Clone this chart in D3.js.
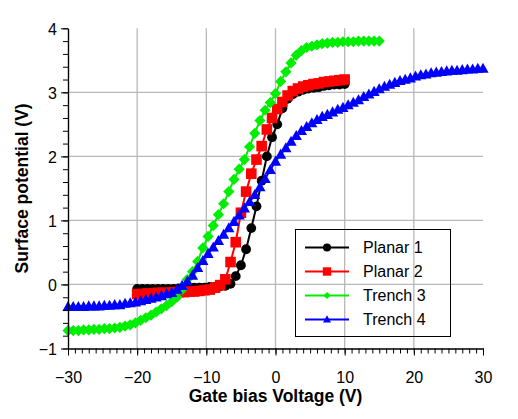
<!DOCTYPE html>
<html><head><meta charset="utf-8">
<script src="https://cdn.jsdelivr.net/npm/d3@7"></script>
<style>body{margin:0;background:#fff}svg{display:block}</style>
</head><body>
<svg id="c" width="518" height="419"></svg>
<script>
const seriesNames = ["Planar 1", "Planar 2", "Trench 3", "Trench 4"];
const seriesColors = ["#000000", "#ff0000", "#00ee00", "#0000ff"];

const planar1X = [-20,-19.25,-18.5,-17.75,-17,-16.25,-15.5,-14.75,-14,-13.25,-12.5,-11.75,-11,-10.25,-9.5,-8.75,-8,-7.25,-6.5,-5.75,-5,-4.25,-3.5,-2.75,-2,-1.25,-0.5,0.25,1,1.75,2.5,3.25,4,4.75,5.5,6.25,7,7.75,8.5,9.25,10];
const planar1Y = [-0.07,-0.07,-0.07,-0.07,-0.07,-0.07,-0.07,-0.07,-0.06,-0.06,-0.06,-0.05,-0.05,-0.05,-0.04,-0.04,-0.03,-0.02,0.01,0.13,0.30,0.55,0.88,1.22,1.62,2.00,2.30,2.50,2.75,2.90,2.97,3.01,3.04,3.06,3.07,3.08,3.10,3.11,3.12,3.12,3.13];

const planar2X = [-20,-19.25,-18.5,-17.75,-17,-16.25,-15.5,-14.75,-14,-13.25,-12.5,-11.75,-11,-10.25,-9.5,-8.75,-8,-7.25,-6.5,-5.75,-5,-4.25,-3.5,-2.75,-2,-1.25,-0.5,0.25,1,1.75,2.5,3.25,4,4.75,5.5,6.25,7,7.75,8.5,9.25,10];
const planar2Y = [-0.15,-0.15,-0.14,-0.14,-0.13,-0.13,-0.13,-0.12,-0.12,-0.12,-0.11,-0.11,-0.10,-0.09,-0.08,-0.05,-0.01,0.08,0.35,0.66,1.12,1.45,1.73,1.95,2.16,2.42,2.60,2.74,2.85,2.95,3.02,3.06,3.09,3.11,3.13,3.14,3.16,3.17,3.18,3.19,3.20];

const trench3X = [-30,-29.25,-28.5,-27.75,-27,-26.25,-25.5,-24.75,-24,-23.25,-22.5,-21.75,-21,-20.25,-19.5,-18.75,-18,-17.25,-16.5,-15.75,-15,-14.25,-13.5,-12.75,-12,-11.25,-10.5,-9.75,-9,-8.25,-7.5,-6.75,-6,-5.25,-4.5,-3.75,-3,-2.25,-1.5,-0.75,0,0.75,1.5,2.25,3,3.75,4.5,5.25,6,6.75,7.5,8.25,9,9.75,10.5,11.25,12,12.75,13.5,14.25,15];
const trench3Y = [-0.72,-0.72,-0.72,-0.71,-0.71,-0.70,-0.70,-0.69,-0.69,-0.68,-0.67,-0.65,-0.63,-0.60,-0.56,-0.52,-0.48,-0.43,-0.38,-0.33,-0.27,-0.20,-0.08,0.08,0.20,0.36,0.57,0.75,0.92,1.09,1.26,1.45,1.64,1.80,1.95,2.15,2.36,2.56,2.72,2.84,2.98,3.17,3.32,3.46,3.58,3.65,3.70,3.72,3.74,3.76,3.77,3.78,3.78,3.79,3.79,3.79,3.80,3.80,3.80,3.80,3.80];

const trench4X = [-30,-29.25,-28.5,-27.75,-27,-26.25,-25.5,-24.75,-24,-23.25,-22.5,-21.75,-21,-20.25,-19.5,-18.75,-18,-17.25,-16.5,-15.75,-15,-14.25,-13.5,-12.75,-12,-11.25,-10.5,-9.75,-9,-8.25,-7.5,-6.75,-6,-5.25,-4.5,-3.75,-3,-2.25,-1.5,-0.75,0,0.75,1.5,2.25,3,3.75,4.5,5.25,6,6.75,7.5,8.25,9,9.75,10.5,11.25,12,12.75,13.5,14.25,15,15.75,16.5,17.25,18,18.75,19.5,20.25,21,21.75,22.5,23.25,24,24.75,25.5,26.25,27,27.75,28.5,29.25,30];
const trench4Y = [-0.35,-0.35,-0.35,-0.35,-0.34,-0.34,-0.34,-0.33,-0.33,-0.32,-0.32,-0.30,-0.29,-0.28,-0.26,-0.24,-0.22,-0.20,-0.18,-0.15,-0.13,-0.08,-0.02,0.05,0.14,0.26,0.37,0.48,0.58,0.68,0.78,0.88,0.98,1.08,1.19,1.29,1.40,1.52,1.65,1.79,1.92,2.03,2.13,2.23,2.32,2.40,2.46,2.52,2.57,2.62,2.65,2.69,2.73,2.76,2.80,2.84,2.88,2.93,2.97,3.01,3.05,3.09,3.12,3.15,3.18,3.20,3.22,3.25,3.27,3.28,3.30,3.31,3.32,3.33,3.34,3.34,3.35,3.36,3.36,3.37,3.37];

const xTicks = [-30,-20,-10,0,10,20,30];
const yTicks = [-1,0,1,2,3,4];
const xTitle = "Gate bias Voltage (V)";
const yTitle = "Surface potential (V)";

const seriesData = [
  {name: seriesNames[0], color: seriesColors[0], shape: "circle",   xs: planar1X, ys: planar1Y},
  {name: seriesNames[1], color: seriesColors[1], shape: "square",   xs: planar2X, ys: planar2Y},
  {name: seriesNames[2], color: seriesColors[2], shape: "diamond",  xs: trench3X, ys: trench3Y},
  {name: seriesNames[3], color: seriesColors[3], shape: "triangle", xs: trench4X, ys: trench4Y}
];

const svg = d3.select("#c");
const font = "'Liberation Sans', Arial, Helvetica, sans-serif";
const L = 68, R = 483, T = 28.3, B = 348.5;
const x = d3.scaleLinear().domain([-30, 30]).range([L, R]);
const y = d3.scaleLinear().domain([-1, 4]).range([B, T]);

// grid
const grid = svg.append("g").attr("stroke", "#b8b8b8").attr("stroke-width", 1.3);
grid.selectAll("line.vx").data(xTicks.filter(d => d > -30 && d < 30)).join("line")
  .attr("x1", d => x(d)).attr("x2", d => x(d)).attr("y1", T).attr("y2", B);
grid.selectAll("line.hy").data(yTicks.filter(d => d > -1 && d < 4)).join("line")
  .attr("x1", L).attr("x2", R).attr("y1", d => y(d)).attr("y2", d => y(d));

// symbols
function symPath(shape, s) {
  if (shape === "circle") return d3.symbol(d3.symbolCircle, Math.PI * s * s)();
  if (shape === "square") return `M${-s},${-s}H${s}V${s}H${-s}Z`;
  if (shape === "diamond") return `M0,${-s}L${s},0L0,${s}L${-s},0Z`;
  return `M0,${-s * 1.05}L${s},${s * 0.75}L${-s},${s * 0.75}Z`;
}
const markerSize = {circle: 4.9, square: 5.3, diamond: 5.6, triangle: 5.6};

const line = d3.line().x(d => x(d[0])).y(d => y(d[1]));
seriesData.forEach(s => {
  const pts = s.xs.map((v, i) => [v, s.ys[i]]);
  const g = svg.append("g");
  g.append("path").datum(pts).attr("d", line).attr("fill", "none")
    .attr("stroke", s.color).attr("stroke-width", 2);
  g.selectAll("path.m").data(pts).join("path").attr("class", "m")
    .attr("transform", d => `translate(${x(d[0])},${y(d[1])})`)
    .attr("d", symPath(s.shape, markerSize[s.shape])).attr("fill", s.color);
});

// axes
const xAxis = svg.append("g").attr("transform", `translate(0,${B})`)
  .call(d3.axisBottom(x).tickValues(xTicks).tickSize(7).tickSizeOuter(0).tickFormat(d3.format("d")));
svg.append("g").attr("transform", `translate(0,${B})`)
  .call(d3.axisBottom(x).tickValues(d3.range(-30, 31, 1)).tickSize(5).tickSizeOuter(0).tickFormat(""));
const yAxis = svg.append("g").attr("transform", `translate(${L},0)`)
  .call(d3.axisLeft(y).tickValues(yTicks).tickSize(7).tickSizeOuter(0).tickFormat(d3.format("d")));
svg.append("g").attr("transform", `translate(${L},0)`)
  .call(d3.axisLeft(y).tickValues(d3.range(-1, 4.01, 0.2)).tickSize(5).tickSizeOuter(0).tickFormat(""));
svg.selectAll(".domain").attr("stroke", "#000").attr("stroke-width", 1.2);
svg.selectAll(".tick line").attr("stroke", "#000").attr("stroke-width", 1);
xAxis.selectAll("text").attr("font-family", font).attr("font-size", 16).attr("fill", "#000").attr("dy", "0").attr("y", 34);
yAxis.selectAll("text").attr("font-family", font).attr("font-size", 16).attr("fill", "#000").attr("x", -11).attr("dy", "0.36em");

svg.append("text").attr("x", x(0)).attr("y", 402).attr("text-anchor", "middle")
  .attr("font-family", font).attr("font-weight", "bold").attr("font-size", 17.5).text(xTitle);
svg.append("text").attr("transform", `translate(28,${y(1.5)}) rotate(-90)`).attr("text-anchor", "middle")
  .attr("font-family", font).attr("font-weight", "bold").attr("font-size", 17.5).text(yTitle);

// legend
const lg = svg.append("g");
lg.append("rect").attr("x", 295.5).attr("y", 229.5).attr("width", 155).attr("height", 107)
  .attr("fill", "none").attr("stroke", "#000").attr("stroke-width", 1);
const legendMarker = {circle: 4, square: 4.2, diamond: 3.6, triangle: 4};
seriesData.forEach((s, i) => {
  const cy = 247.5 + i * 24;
  lg.append("line").attr("x1", 305).attr("x2", 349).attr("y1", cy).attr("y2", cy)
    .attr("stroke", s.color).attr("stroke-width", 2);
  lg.append("path").attr("transform", `translate(327,${cy})`)
    .attr("d", symPath(s.shape, legendMarker[s.shape])).attr("fill", s.color);
  lg.append("text").attr("x", 363).attr("y", cy).attr("dy", "0.36em")
    .attr("font-family", font).attr("font-size", 16).attr("fill", "#000").text(s.name);
});
</script>
</body></html>
